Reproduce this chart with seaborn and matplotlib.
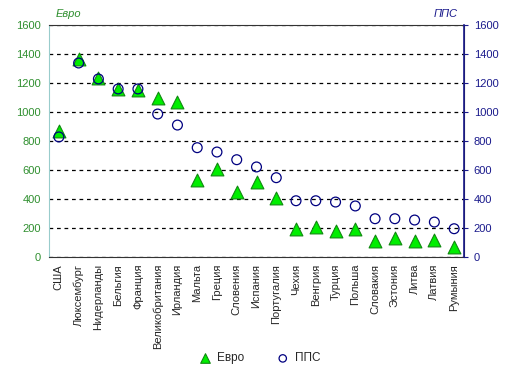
import numpy as np
import pandas as pd
import matplotlib
matplotlib.use('Agg')
import matplotlib.pyplot as plt
import seaborn as sns

# данные
countries = ['США', 'Люксембург', 'Нидерланды', 'Бельгия', 'Франция', 'Великобритания',
             'Ирландия', 'Мальта', 'Греция', 'Словения', 'Испания', 'Португалия', 'Чехия',
             'Венгрия', 'Турция', 'Польша', 'Словакия', 'Эстония', 'Литва', 'Латвия', 'Румыния']
euro = [869, 1366, 1234, 1159, 1152, 1097, 1069, 531, 607, 448, 519, 409, 193,
        209, 181, 195, 110, 129, 112, 119, 67]
pps = [828, 1338, 1228, 1159, 1159, 986, 910, 754, 724, 671, 621, 547, 388,
       388, 379, 352, 264, 264, 255, 241, 195]
yticks = [0, 200, 400, 600, 800, 1000, 1200, 1400, 1600]

df = pd.DataFrame({'Страна': countries, 'Евро': euro, 'ППС': pps})

sns.set_style('white')
plt.rcParams['font.family'] = ['Liberation Sans', 'DejaVu Sans']
plt.rcParams['font.size'] = 8

green_txt = '#2f8f2f'
navy = '#1a1a8c'

fig = plt.figure(figsize=(5.13, 3.77), dpi=100)
ax = fig.add_axes([0.0955, 0.3183, 0.809, 0.6154])
ax2 = ax.twinx()

sns.scatterplot(data=df, x='Страна', y='Евро', ax=ax, marker='^', s=85,
                color='#00ee00', edgecolor='#118811', linewidth=0.8, zorder=3,
                label='Евро', legend=False)
sns.scatterplot(data=df, x='Страна', y='ППС', ax=ax2, marker='o', s=50,
                facecolor='none', edgecolor='#000080', linewidth=0.9, zorder=3,
                label='ППС', legend=False)

for a in (ax, ax2):
    a.set_ylim(0, 1600)
    a.set_yticks(yticks)
    a.set_xlim(-0.5, len(countries) - 0.5)
    a.set_xlabel('')
    a.set_ylabel('')

ax.yaxis.grid(True, linestyle=(0, (3, 3)), color='black', linewidth=0.9)
ax.set_axisbelow(True)

# деления по границам категорий, подписи по центрам
ax.set_xticks(np.arange(-0.5, len(countries), 1))
ax.set_xticklabels([])
ax.set_xticks(np.arange(len(countries)), minor=True)
ax.set_xticklabels(countries, minor=True, rotation=90)
ax.tick_params(axis='x', which='major', direction='inout', length=7, color='#333333')
ax.tick_params(axis='x', which='minor', length=0, pad=5, labelsize=8)

ax.tick_params(axis='y', length=0, colors=green_txt, labelsize=8, pad=6)
ax2.tick_params(axis='y', length=3, color=navy, colors=navy, labelsize=8, pad=4)

ax.spines['left'].set_color('#99cccc')
ax.spines['bottom'].set_color('#333333')
ax.spines['top'].set_color('#333333')
ax2.spines['right'].set_color(navy)
ax2.spines['right'].set_linewidth(1.2)
for s in ('left', 'top', 'bottom'):
    ax2.spines[s].set_visible(False)

ax.text(0.015, 1.025, 'Евро', transform=ax.transAxes, color=green_txt,
        style='italic', ha='left', va='bottom', fontsize=8)
ax2.text(0.985, 1.025, 'ППС', transform=ax2.transAxes, color=navy,
         style='italic', ha='right', va='bottom', fontsize=8)

h1, l1 = ax.get_legend_handles_labels()
h2, l2 = ax2.get_legend_handles_labels()
fig.legend(h1 + h2, l1 + l2, loc='lower center', bbox_to_anchor=(0.5, 0.005),
           ncol=2, frameon=False, fontsize=8.5, handletextpad=0.0,
           columnspacing=2.3, markerscale=0.75)

fig.savefig('out.png', dpi=100)
